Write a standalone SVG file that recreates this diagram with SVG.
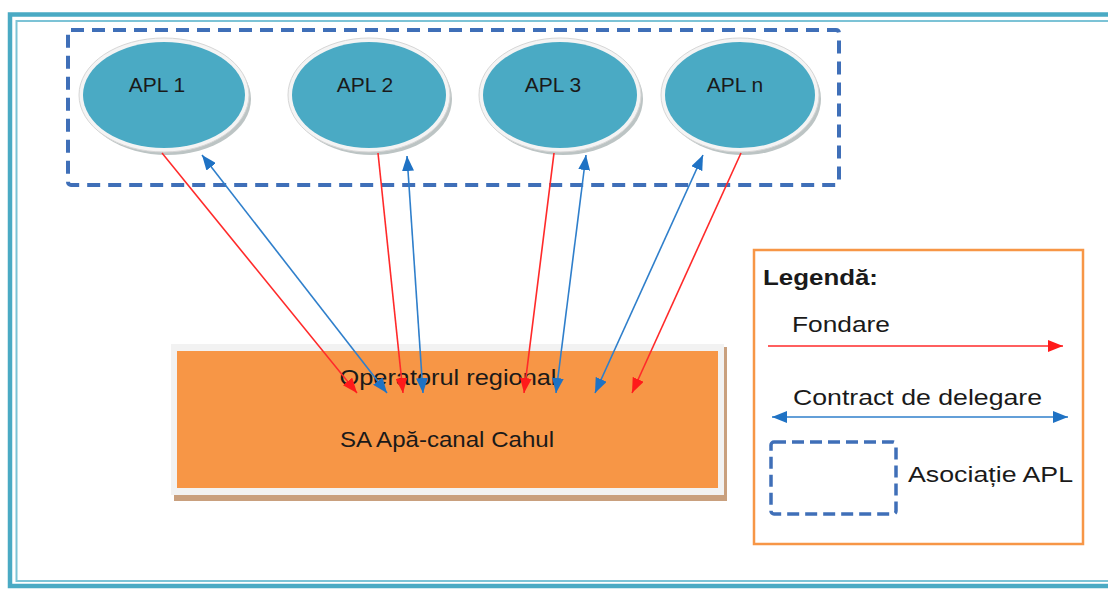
<svg xmlns="http://www.w3.org/2000/svg" width="1108" height="590" viewBox="0 0 1108 590">
<defs>
<style>
.t{font-family:"Liberation Sans",Arial,sans-serif;fill:#1a1a1a}
.dash{fill:none;stroke:#3f6fb8;stroke-width:4;stroke-dasharray:13 8;stroke-linejoin:round}
.red{stroke:#ff2a2a;stroke-width:1.6;fill:none}
.blue{stroke:#2f7fcb;stroke-width:1.6;fill:none}
.ring{fill:#f4f4f4;stroke:#d6d6d6;stroke-width:1}
.shadow{fill:#8f9c9c;opacity:0.6}
.core{fill:#4aaac4}
</style>
<marker id="ar" viewBox="0 0 15 12" refX="15" refY="6" markerWidth="15" markerHeight="12" markerUnits="userSpaceOnUse" orient="auto"><path d="M0,0 L15,6 L0,12 z" fill="#ff1a1a"/></marker>
<marker id="ab" viewBox="0 0 15 12" refX="15" refY="6" markerWidth="15" markerHeight="12" markerUnits="userSpaceOnUse" orient="auto"><path d="M0,0 L15,6 L0,12 z" fill="#1f72c4"/></marker>
<marker id="abs" viewBox="0 0 15 12" refX="0" refY="6" markerWidth="15" markerHeight="12" markerUnits="userSpaceOnUse" orient="auto"><path d="M15,0 L0,6 L15,12 z" fill="#1f72c4"/></marker>
</defs>
<rect width="1108" height="590" fill="#ffffff"/>
<g id="frame">
<rect x="10" y="14.5" width="1110" height="571.5" fill="none" stroke="#4aaac4" stroke-width="4.5"/>
<rect x="16.5" y="21" width="1110" height="560" fill="none" stroke="#7cc3d6" stroke-width="2"/>
</g>
<g id="asociatie">
<rect x="68" y="30" width="771" height="155" rx="3" class="dash"/>
</g>
<g id="apl1">
<ellipse cx="167" cy="99" rx="84" ry="56" class="shadow"/>
<ellipse cx="164" cy="95" rx="85" ry="57" class="ring"/>
<ellipse cx="164" cy="95" rx="81" ry="53" class="core"/>
<text x="157" y="92" class="t" font-size="21" text-anchor="middle">APL 1</text>
</g>
<g id="apl2">
<ellipse cx="372" cy="99" rx="80" ry="56" class="shadow"/>
<ellipse cx="369" cy="95" rx="81" ry="57" class="ring"/>
<ellipse cx="369" cy="95" rx="77" ry="53" class="core"/>
<text x="365" y="92" class="t" font-size="21" text-anchor="middle">APL 2</text>
</g>
<g id="apl3">
<ellipse cx="563" cy="99" rx="80" ry="56" class="shadow"/>
<ellipse cx="560" cy="95" rx="81" ry="57" class="ring"/>
<ellipse cx="560" cy="95" rx="77" ry="53" class="core"/>
<text x="553" y="92" class="t" font-size="21" text-anchor="middle">APL 3</text>
</g>
<g id="apln">
<ellipse cx="743" cy="99" rx="78" ry="56" class="shadow"/>
<ellipse cx="740" cy="95" rx="79" ry="57" class="ring"/>
<ellipse cx="740" cy="95" rx="75" ry="53" class="core"/>
<text x="735" y="92" class="t" font-size="21" text-anchor="middle">APL n</text>
</g>
<g id="operator">
<rect x="174" y="347" width="553" height="154" fill="#c9a07e"/>
<rect x="171" y="344" width="553" height="151" fill="#f2f2f2"/>
<rect x="177" y="351" width="541" height="137" fill="#f79646"/>
<text x="448" y="385" class="t" font-size="22" text-anchor="middle" textLength="217" lengthAdjust="spacingAndGlyphs">Operatorul regional</text>
<text x="447" y="447" class="t" font-size="22" text-anchor="middle" textLength="214" lengthAdjust="spacingAndGlyphs">SA Apă-canal Cahul</text>
</g>
<g id="connectors">
<line x1="162" y1="153" x2="357" y2="393" class="red" marker-end="url(#ar)"/>
<line x1="202" y1="155" x2="387" y2="393" class="blue" marker-start="url(#abs)" marker-end="url(#ab)"/>
<line x1="378" y1="153" x2="403" y2="393" class="red" marker-end="url(#ar)"/>
<line x1="407" y1="156" x2="423" y2="393" class="blue" marker-start="url(#abs)" marker-end="url(#ab)"/>
<line x1="554" y1="153" x2="524" y2="393" class="red" marker-end="url(#ar)"/>
<line x1="586" y1="155" x2="556" y2="393" class="blue" marker-start="url(#abs)" marker-end="url(#ab)"/>
<line x1="703" y1="155" x2="595" y2="393" class="blue" marker-start="url(#abs)" marker-end="url(#ab)"/>
<line x1="741" y1="153" x2="632" y2="393" class="red" marker-end="url(#ar)"/>
</g>
<g id="legend">
<rect x="754" y="250" width="329" height="294" fill="#ffffff" stroke="#f79646" stroke-width="2.5"/>
<text x="763" y="285" class="t" font-size="22" font-weight="bold" textLength="115" lengthAdjust="spacingAndGlyphs">Legendă:</text>
<text x="792" y="332" class="t" font-size="22" textLength="98" lengthAdjust="spacingAndGlyphs">Fondare</text>
<line x1="768" y1="346" x2="1063" y2="346" class="red" marker-end="url(#ar)"/>
<text x="793" y="405" class="t" font-size="22" textLength="249" lengthAdjust="spacingAndGlyphs">Contract de delegare</text>
<line x1="772" y1="417" x2="1068" y2="417" class="blue" marker-start="url(#abs)" marker-end="url(#ab)"/>
<rect x="771" y="442" width="125" height="72" rx="3" fill="none" stroke="#3f6fb8" stroke-width="3.5" stroke-dasharray="12 6"/>
<text x="908" y="482" class="t" font-size="22" textLength="165" lengthAdjust="spacingAndGlyphs">Asociație APL</text>
</g>
</svg>
